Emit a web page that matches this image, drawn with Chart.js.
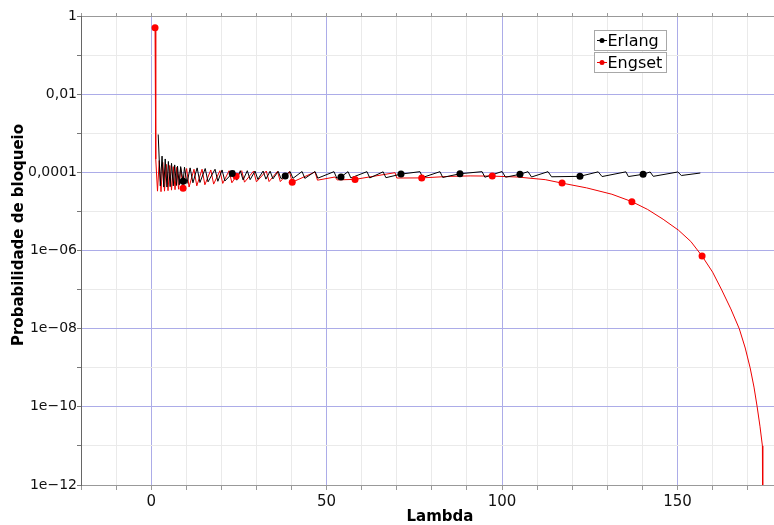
<!DOCTYPE html>
<html>
<head>
<meta charset="utf-8">
<script src="https://cdn.jsdelivr.net/npm/chart.js@4.4.1/dist/chart.umd.min.js"></script>
<style>
  body { margin: 0; background: #fff; }
</style>
</head>
<body>
<canvas id="chart" width="774" height="525"></canvas>
<script>
// Erlang: blocking probability vs lambda (line vertices)
var erlangLambda = [
  2.0, 2.6, 3.1, 3.6, 4.0, 4.5, 4.9, 5.4, 5.8, 6.3,
  6.7, 7.2, 7.5, 8.0, 8.4, 9.1, 9.5, 10.2, 11.1, 11.9,
  13.1, 13.9, 15.4, 16.2, 18.2, 19.0, 20.2, 21.0, 23.1, 23.6,
  24.4, 25.4, 26.2, 27.4, 28.2, 29.6, 30.4, 31.9, 32.7, 33.9,
  34.7, 36.2, 37.0, 38.2, 39.6, 40.4, 43.0, 43.8, 46.7, 47.5,
  52.1, 52.9, 54.1, 56.1, 56.9, 61.5, 62.3, 66.1, 66.9, 71.2,
  76.6, 77.4, 82.3, 83.1, 88.0, 94.3, 95.1, 100.0, 101.0, 105.1,
  107.4, 108.4, 113.1, 114.1, 122.2, 127.4, 128.5, 135.3, 136.0, 140.2,
  142.2, 143.1, 150.1, 151.1, 156.5
];
var erlangProb = [
  9.3e-4, 4.5e-5, 2.6e-4, 4.2e-5, 2.2e-4, 4.2e-5, 1.9e-4, 4.3e-5, 1.7e-4, 4.5e-5,
  1.55e-4, 4.6e-5, 1.45e-4, 4.8e-5, 1.4e-4, 5.9e-5, 1.35e-4, 5.2e-5, 1.3e-4, 5.4e-5,
  1.3e-4, 5.5e-5, 1.25e-4, 5.7e-5, 1.2e-4, 5.9e-5, 1.15e-4, 6.0e-5, 9.4e-5, 1.1e-4,
  6.3e-5, 1.1e-4, 6.4e-5, 1.1e-4, 6.5e-5, 1.08e-4, 6.6e-5, 1.08e-4, 6.7e-5, 1.07e-4,
  6.8e-5, 1.06e-4, 6.9e-5, 8.0e-5, 1.05e-4, 7.0e-5, 1.05e-4, 7.0e-5, 1.05e-4, 7.1e-5,
  1.04e-4, 7.1e-5, 7.6e-5, 1.04e-4, 7.2e-5, 1.04e-4, 7.2e-5, 1.03e-4, 7.3e-5, 9.0e-5,
  1.04e-4, 7.4e-5, 1.04e-4, 7.4e-5, 9.2e-5, 1.04e-4, 7.5e-5, 1.05e-4, 7.5e-5, 8.9e-5,
  1.04e-4, 7.6e-5, 1.04e-4, 7.7e-5, 7.9e-5, 1.03e-4, 7.8e-5, 1.03e-4, 7.8e-5, 8.9e-5,
  1.02e-4, 7.9e-5, 1.02e-4, 8.3e-5, 9.6e-5
];
var erlangMarkLambda = [9.1, 23.1, 38.2, 54.1, 71.2, 88.0, 105.1, 122.2, 140.2];
var erlangMarkProb = [5.9e-5, 9.4e-5, 8.0e-5, 7.6e-5, 9.0e-5, 9.2e-5, 8.9e-5, 7.9e-5, 8.9e-5];

// Engset
var engsetLambda = [
  1.1, 1.3, 1.8, 2.3, 2.8, 3.3, 3.8, 4.3, 4.8, 5.3,
  5.8, 6.3, 6.8, 7.3, 7.8, 8.4, 9.1, 10.1, 10.8, 12.2,
  13.0, 14.5, 15.3, 17.0, 17.8, 19.6, 20.4, 22.2, 23.0, 24.2,
  25.8, 26.6, 29.2, 30.0, 32.8, 33.6, 36.0, 36.8, 39.4, 40.2,
  46.7, 47.4, 52.4, 53.0, 58.1, 69.5, 70.0, 77.1, 85.2, 90.9,
  97.2, 104.3, 112.3, 117.1, 124.1, 131.3, 137.0, 141.5, 145.9, 150.3,
  153.8, 157.0, 160.0, 162.6, 165.2, 167.6, 169.3, 170.7, 171.8, 172.7,
  173.5, 174.2, 174.3
];
var engsetProb = [
  0.5, 2.2e-4, 3.3e-5, 2.0e-4, 3.2e-5, 1.8e-4, 3.3e-5, 1.6e-4, 3.4e-5, 1.5e-4,
  3.5e-5, 1.4e-4, 3.6e-5, 1.35e-4, 3.7e-5, 1.3e-4, 3.9e-5, 1.25e-4, 4.2e-5, 1.2e-4,
  4.5e-5, 1.2e-4, 4.8e-5, 1.15e-4, 5.0e-5, 1.1e-4, 5.2e-5, 1.1e-4, 5.4e-5, 7.9e-5,
  1.1e-4, 5.6e-5, 1.08e-4, 5.7e-5, 1.08e-4, 5.8e-5, 1.06e-4, 5.8e-5, 1.05e-4, 5.6e-5,
  1.02e-4, 6.3e-5, 7.6e-5, 6.4e-5, 6.6e-5, 9.8e-5, 7.15e-5, 7.2e-5, 7.9e-5, 8.1e-5,
  8.0e-5, 7.6e-5, 6.5e-5, 5.3e-5, 4.0e-5, 2.75e-5, 1.78e-5, 1.12e-5, 6.3e-6, 3.3e-6,
  1.7e-6, 7.2e-7, 2.8e-7, 9.8e-8, 3.2e-8, 1.0e-8, 3.2e-9, 1.0e-9, 3.2e-10, 1.0e-10,
  3.2e-11, 1.0e-11, 1e-14
];
var engsetMarkLambda = [1.1, 9.1, 24.2, 40.2, 58.1, 77.1, 97.2, 117.1, 137.0, 157.0];
var engsetMarkProb = [0.5, 3.9e-5, 7.9e-5, 5.6e-5, 6.6e-5, 7.2e-5, 8.0e-5, 5.3e-5, 1.78e-5, 7.2e-7];

// axes
var xTickValues = [-20, -10, 0, 10, 20, 30, 40, 50, 60, 70, 80, 90, 100, 110, 120, 130, 140, 150, 160, 170];
var xTickLabels = ['', '', '0', '', '', '', '', '50', '', '', '', '', '100', '', '', '', '', '150', '', ''];
var yTickValues = [1, 0.1, 0.01, 1e-3, 1e-4, 1e-5, 1e-6, 1e-7, 1e-8, 1e-9, 1e-10, 1e-11, 1e-12];
var yTickLabels = ['1', '', '0,01', '', '0,0001', '', '1e\u221206', '', '1e\u221208', '', '1e\u221210', '', '1e\u221212'];

var majorGrid = 'rgb(172,172,232)';
var minorGrid = 'rgb(234,234,234)';

function toPoints(xs, ys) {
  return xs.map(function(x, i) { return { x: x, y: ys[i] }; });
}

function yIndex(v) {
  for (var i = 0; i < yTickValues.length; i++) {
    if (Math.abs(Math.log10(v) - Math.log10(yTickValues[i])) < 0.01) return i;
  }
  return -1;
}

var legendBoxes = {
  id: 'legendBoxes',
  afterDraw: function(chart) {
    var c = chart.ctx;
    var items = [
      { text: chart.data.datasets[0].label, color: '#000', y: 30 },
      { text: chart.data.datasets[1].label, color: '#e00', y: 52 }
    ];
    c.save();
    items.forEach(function(it) {
      c.fillStyle = '#fff';
      c.fillRect(594.5, it.y + 0.5, 72, 20);
      c.strokeStyle = '#a8a8a8';
      c.lineWidth = 1;
      c.strokeRect(594.5, it.y + 0.5, 72, 20);
      var my = it.y + 10.5;
      c.strokeStyle = it.color;
      c.beginPath();
      c.moveTo(597, my);
      c.lineTo(607, my);
      c.stroke();
      c.fillStyle = it.color;
      c.beginPath();
      c.arc(602, my, 2.5, 0, Math.PI * 2);
      c.fill();
      c.fillStyle = '#000';
      c.font = '16px "DejaVu Sans"';
      c.textAlign = 'left';
      c.textBaseline = 'middle';
      c.fillText(it.text, 607.5, my + 1);
    });
    c.restore();
  }
};

var axisTitles = {
  id: 'axisTitles',
  afterDraw: function(chart) {
    var c = chart.ctx;
    c.save();
    c.fillStyle = '#000';
    c.font = 'bold 15px "DejaVu Sans"';
    c.textAlign = 'center';
    c.textBaseline = 'middle';
    c.fillText('Lambda', 440, 517);
    c.translate(19, 235);
    c.rotate(-Math.PI / 2);
    c.fillText('Probabilidade de bloqueio', 0, 0);
    c.restore();
  }
};

new Chart(document.getElementById('chart'), {
  type: 'line',
  data: {
    datasets: [
      { label: 'Erlang', data: toPoints(erlangLambda, erlangProb), borderColor: '#000', borderWidth: 1, pointRadius: 0, tension: 0 },
      { label: 'Engset', data: toPoints(engsetLambda, engsetProb), borderColor: '#e00', borderWidth: 1, pointRadius: 0, tension: 0 },
      { label: 'Erlang', data: toPoints(erlangMarkLambda, erlangMarkProb), showLine: false, pointRadius: 3.5, backgroundColor: '#000', borderColor: '#000', borderWidth: 0, order: -1 },
      { label: 'Engset', data: toPoints(engsetMarkLambda, engsetMarkProb), showLine: false, pointRadius: 3.5, backgroundColor: '#f00', borderColor: '#f00', borderWidth: 0, order: -1 }
    ]
  },
  options: {
    responsive: false,
    animation: false,
    devicePixelRatio: 1,
    layout: { padding: 0, autoPadding: false },
    plugins: { legend: { display: false }, tooltip: { enabled: false } },
    scales: {
      x: {
        type: 'linear', position: 'bottom', min: -20, max: 177.5,
        afterBuildTicks: function(s) { s.ticks = xTickValues.map(function(v) { return { value: v }; }); },
        afterFit: function(s) { s.height = 40; },
        ticks: {
          autoSkip: false, maxRotation: 0, padding: 3, color: '#111',
          font: { family: 'DejaVu Sans', size: 15 },
          callback: function(v, i) { return xTickLabels[i]; }
        },
        grid: {
          tickLength: 5,
          color: function(ctx) { return xTickLabels[ctx.index] ? majorGrid : minorGrid; },
          tickColor: '#999'
        },
        border: { color: '#999' }
      },
      x2: {
        type: 'linear', position: 'top', min: -20, max: 177.5,
        afterBuildTicks: function(s) { s.ticks = xTickValues.map(function(v) { return { value: v }; }); },
        afterFit: function(s) { s.height = 16; },
        ticks: { display: false },
        grid: { drawOnChartArea: false, tickLength: 3, tickColor: '#999' },
        border: { color: '#999' }
      },
      y: {
        type: 'logarithmic', min: 1e-12, max: 1,
        afterBuildTicks: function(s) { s.ticks = yTickValues.map(function(v) { return { value: v }; }); },
        afterFit: function(s) { s.width = 81; },
        ticks: {
          autoSkip: false, padding: 0, color: '#111',
          font: { family: 'DejaVu Sans', size: 14 },
          callback: function(v) { var i = yIndex(v); return i >= 0 ? yTickLabels[i] : ''; }
        },
        grid: {
          tickLength: 4,
          color: function(ctx) {
            var i = ctx.tick ? yIndex(ctx.tick.value) : -1;
            return i >= 0 && yTickLabels[i] ? majorGrid : minorGrid;
          },
          tickColor: '#777'
        },
        border: { color: '#666' }
      }
    }
  },
  plugins: [legendBoxes, axisTitles]
});
</script>
</body>
</html>
